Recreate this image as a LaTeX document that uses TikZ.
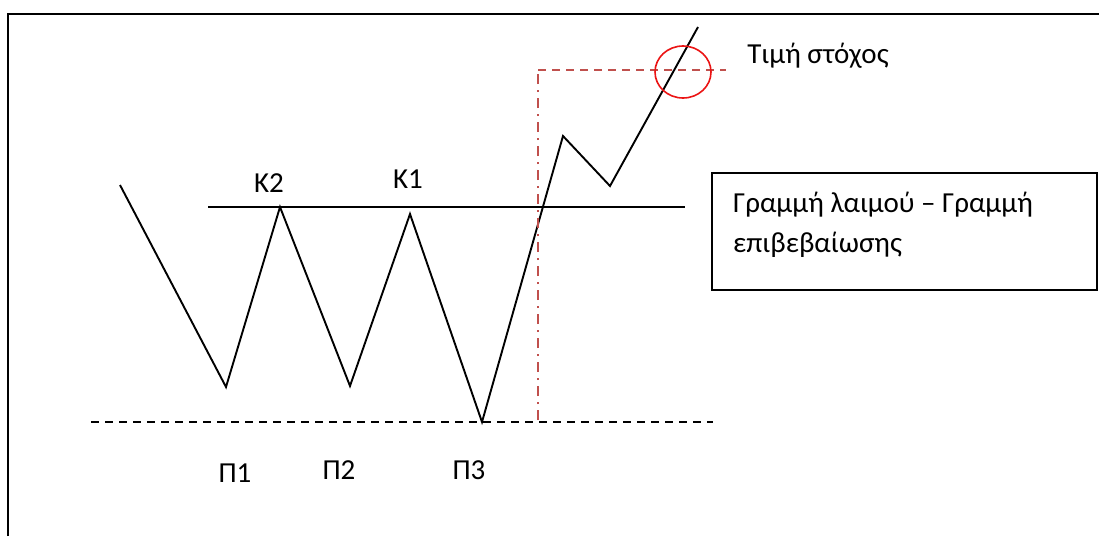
\documentclass[tikz,border=0pt]{standalone}
\usepackage{fontspec}
\setmainfont{Carlito}
\usepackage{xcolor}
\usepackage{tikz}
\usetikzlibrary{positioning, calc, shapes.geometric}
\definecolor{guidered}{RGB}{192,80,77}
\definecolor{ringred}{RGB}{235,20,20}
\tikzset{
  price/.style={line width=1.9pt, line join=miter},
  neckline/.style={line width=1.9pt},
  support/.style={line width=1.6pt, dash pattern=on 8pt off 6pt},
  vguide/.style={line width=1.6pt, color=guidered, dash pattern=on 10pt off 6pt on 2pt off 6pt},
  hguide/.style={line width=1.6pt, color=guidered, dash pattern=on 8pt off 6pt},
  lbl/.style={font=\fontsize{29}{34}\selectfont, inner sep=0pt},
  notebox/.style={rectangle, draw, line width=1.6pt, minimum width=385pt,
    minimum height=117pt, inner sep=0pt},
}
\begin{document}
\begin{tikzpicture}[x=1pt, y=-1pt]
  \useasboundingbox (0,0) rectangle (1099,536);
  % frame
  \draw[line width=1.9pt] (8,536) -- (8,14) -- (1099,14);

  % price path
  \coordinate (s0) at (120,185);
  \coordinate (p1) at (226,387);
  \coordinate (k2) at (280,207);
  \coordinate (p2) at (350,386);
  \coordinate (k1) at (410,214);
  \coordinate (p3) at (482,422);
  \coordinate (r1) at (563,136);
  \coordinate (r2) at (610,186);
  \coordinate (end) at (698,27);
  \draw[price] (s0) -- (p1) -- (k2) -- (p2) -- (k1) -- (p3) -- (r1) -- (r2) -- (end);

  % neckline and support
  \coordinate (nl) at (208,207);
  \coordinate (nr) at (685,207);
  \draw[neckline] (nl) -- (nr);
  \coordinate (sl) at (91,422);
  \coordinate (sr) at (713,422);
  \draw[support] (sl) -- (sr);

  % target guides
  \coordinate (gb) at (538,420);
  \coordinate (gt) at (538,70);
  \coordinate (gr) at (726,70);
  \draw[vguide] (gb) -- (gt);
  \draw[hguide] (gt) -- (gr);
  \node[draw=ringred, line width=1.6pt, ellipse, minimum width=56pt,
        minimum height=52pt, inner sep=0pt] (ring) at (683,72) {};

  % labels
  \node[lbl] (target) at (818,56) {Τιμή στόχος};
  \node[lbl] (lk2) at (269,183) {Κ2};
  \node[lbl] (lk1) at (408,179) {Κ1};
  \node[lbl] (lp1) at (235,473) {Π1};
  \node[lbl] (lp2) at (339,470) {Π2};
  \node[lbl] (lp3) at (469,470) {Π3};

  \node[notebox] (note) at (904.5,231.5) {};
  \node[lbl, anchor=west] (noteA) at (733,205) {Γραμμή λαιμού – Γραμμή};
  \node[lbl, anchor=west] (noteB) at (733,245) {επιβεβαίωσης};
\end{tikzpicture}
\end{document}
